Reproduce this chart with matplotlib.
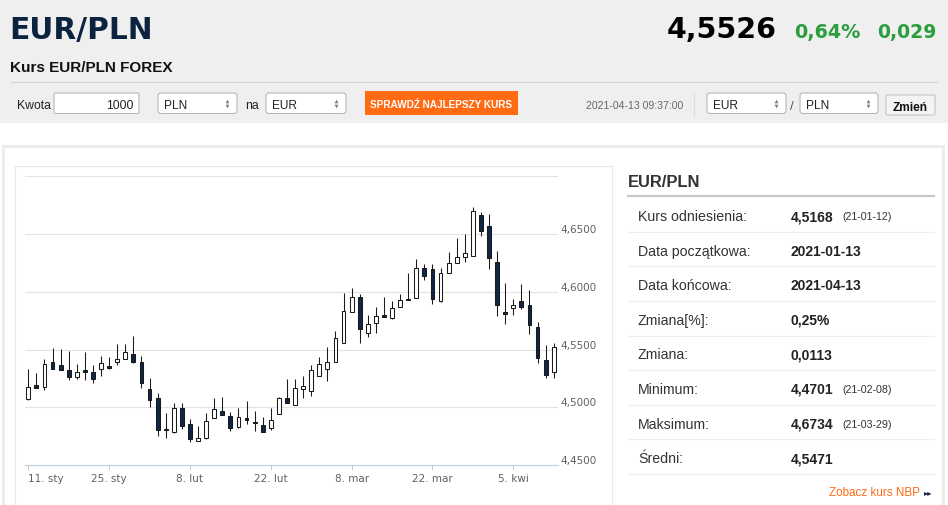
import numpy as np
import matplotlib
matplotlib.use("Agg")
import matplotlib.pyplot as plt
from matplotlib.patches import Rectangle, FancyBboxPatch

plt.rcParams['font.family'] = ['Liberation Sans', 'DejaVu Sans']

# daily EUR/PLN candles
opens = [4.5069, 4.5193, 4.5176, 4.5389, 4.5364, 4.5320, 4.5260, 4.5320, 4.5303, 4.5329,
         4.5355, 4.5395, 4.5421, 4.5464, 4.5395, 4.5162, 4.5078, 4.4804, 4.4789, 4.4991,
         4.4856, 4.4712, 4.4737, 4.4908, 4.4965, 4.4925, 4.4830, 4.4905, 4.4870, 4.4847,
         4.4824, 4.4939, 4.5078, 4.5023, 4.5162, 4.5144, 4.5274, 4.5335, 4.5389, 4.5554,
         4.5822, 4.5952, 4.5646, 4.5733, 4.5799, 4.5773, 4.5868, 4.5929, 4.5949, 4.6203,
         4.6194, 4.5920, 4.6166, 4.6252, 4.6304, 4.6313, 4.6668, 4.6567, 4.6258, 4.5828,
         4.5863, 4.5917, 4.5889, 4.5698, 4.5407, 4.5303]
highs = [4.5332, 4.5294, 4.5415, 4.5516, 4.5502, 4.5485, 4.5372, 4.5476, 4.5364, 4.5447,
         4.5439, 4.5545, 4.5548, 4.5617, 4.5441, 4.5251, 4.5124, 4.4954, 4.5040, 4.5040,
         4.4899, 4.4836, 4.4951, 4.5078, 4.5087, 4.4962, 4.4997, 4.5052, 4.4968, 4.4913,
         4.4994, 4.5089, 4.5248, 4.5245, 4.5268, 4.5364, 4.5439, 4.5522, 4.5658, 4.5990,
         4.6030, 4.5978, 4.5796, 4.5868, 4.5955, 4.5920, 4.5981, 4.6166, 4.6281, 4.6238,
         4.6238, 4.6203, 4.6342, 4.6468, 4.6500, 4.6734, 4.6688, 4.6676, 4.6356, 4.6073,
         4.5935, 4.6065, 4.6013, 4.5736, 4.5540, 4.5560]
lows = [4.5065, 4.5170, 4.5150, 4.5335, 4.5326, 4.5234, 4.5242, 4.5234, 4.5213, 4.5274,
        4.5332, 4.5366, 4.5421, 4.5387, 4.5170, 4.5006, 4.4755, 4.4737, 4.4775, 4.4812,
        4.4701, 4.4709, 4.4723, 4.4905, 4.4934, 4.4795, 4.4824, 4.4853, 4.4795, 4.4787,
        4.4807, 4.4939, 4.5035, 4.5023, 4.5084, 4.5098, 4.5274, 4.5228, 4.5389, 4.5554,
        4.5822, 4.5554, 4.5612, 4.5640, 4.5782, 4.5767, 4.5868, 4.5929, 4.5949, 4.6105,
        4.5894, 4.5909, 4.6166, 4.6252, 4.6261, 4.6313, 4.6480, 4.6194, 4.5790, 4.5721,
        4.5799, 4.5851, 4.5638, 4.5384, 4.5251, 4.5257]
closes = [4.5179, 4.5170, 4.5378, 4.5335, 4.5326, 4.5263, 4.5309, 4.5306, 4.5242, 4.5387,
          4.5343, 4.5421, 4.5476, 4.5395, 4.5211, 4.5066, 4.4804, 4.4810, 4.4994, 4.4841,
          4.4726, 4.4732, 4.4879, 4.4983, 4.4934, 4.4824, 4.4919, 4.4893, 4.4864, 4.4789,
          4.4887, 4.5078, 4.5035, 4.5164, 4.5182, 4.5320, 4.5378, 4.5395, 4.5597, 4.5837,
          4.5952, 4.5681, 4.5724, 4.5793, 4.5782, 4.5860, 4.5932, 4.5935, 4.6203, 4.6140,
          4.5938, 4.6160, 4.6252, 4.6298, 4.6339, 4.6702, 4.6526, 4.6290, 4.5886, 4.5811,
          4.5886, 4.5871, 4.5710, 4.5430, 4.5283, 4.5522]

date_ticks = [0, 10, 20, 30, 40, 50, 60]
date_labels = ['11. sty', '25. sty', '8. lut', '22. lut', '8. mar', '22. mar', '5. kwi']
price_ticks = [4.45, 4.50, 4.55, 4.60, 4.65, 4.70]

stats_labels = ['Kurs odniesienia:', 'Data początkowa:', 'Data końcowa:', 'Zmiana[%]:',
                'Zmiana:', 'Minimum:', 'Maksimum:', 'Średni:']
stats_values = ['4,5168', '2021-01-13', '2021-04-13', '0,25%', '0,0113', '4,4701', '4,6734', '4,5471']
stats_dates = ['(21-01-12)', '', '', '', '', '(21-02-08)', '(21-03-29)', '']

navy = '#0c2340'
orange = '#ff6a13'
green = '#2a9d3f'
dv = 'DejaVu Sans'

fig = plt.figure(figsize=(9.48, 5.06), dpi=100)
bg = fig.add_axes([0, 0, 1, 1])
bg.set_xlim(0, 948)
bg.set_ylim(506, 0)
bg.axis('off')

# header band
bg.add_patch(Rectangle((0, 0), 948, 124, color='#efefef', lw=0))
bg.text(9, 39.3, 'EUR/PLN', fontsize=21.3, fontweight='bold', color=navy, va='baseline', family=dv)
bg.text(777, 38.3, '4,5526', fontsize=20.5, fontweight='bold', color='#000000', va='baseline',
        ha='right', family=dv)
bg.text(794, 38.3, '0,64%', fontsize=13.8, fontweight='bold', color=green, va='baseline', family=dv)
bg.text(937, 38.3, '0,029', fontsize=13.6, fontweight='bold', color=green, va='baseline',
        ha='right', family=dv)
bg.text(10, 71.7, 'Kurs EUR/PLN FOREX', fontsize=11, fontweight='bold', color='#111111', va='baseline')
bg.plot([11, 937], [83.3, 83.3], color='#d4d4d4', lw=0.8)

# converter controls
def box(x0, x1, y0, y1, fc='white', ec='#b8b8b8', r=3):
    bg.add_patch(FancyBboxPatch((x0, y0), x1 - x0, y1 - y0,
                                boxstyle='round,pad=0,rounding_size=%g' % r,
                                fc=fc, ec=ec, lw=0.8))

def select(x0, x1, label):
    box(x0, x1, 94, 114.5)
    bg.text(x0 + 6, 108.5, label, fontsize=8.6, color='#222222', va='baseline')
    bg.plot(x1 - 10, 102, marker='^', ms=2.6, color='#777777', mew=0)
    bg.plot(x1 - 10, 107, marker='v', ms=2.6, color='#777777', mew=0)

bg.text(17, 109, 'Kwota', fontsize=8.8, color='#222222', va='baseline')
box(54, 139, 94, 114.5, r=1.5)
bg.text(134, 109, '1000', fontsize=8.8, color='#222222', va='baseline', ha='right')
select(158, 237, 'PLN')
bg.text(245, 109, 'na', fontsize=8.8, color='#222222', va='baseline')
select(266, 346, 'EUR')
bg.add_patch(Rectangle((365, 92), 153, 24, color=orange, lw=0))
bg.text(441.5, 107.5, 'SPRAWDŹ NAJLEPSZY KURS', fontsize=7.2, fontweight='bold',
        color='white', va='baseline', ha='center')
bg.text(683, 108.5, '2021-04-13 09:37:00', fontsize=7.6, color='#666666', va='baseline', ha='right')
bg.plot([694.5, 694.5], [95, 118], color='#dddddd', lw=0.8)
select(707, 786, 'EUR')
bg.text(792, 109.5, '/', fontsize=9.5, color='#555555', va='baseline', ha='center')
select(800, 878, 'PLN')
box(886, 935, 96, 116, fc='#f4f4f4', ec='#c4c4c4', r=1.5)
bg.text(910.5, 111, 'Zmień', fontsize=8.6, fontweight='bold', color='#111111', va='baseline', ha='center')

# lower panels
bg.add_patch(Rectangle((3, 146.5), 940, 370, fc='white', ec='#ececec', lw=2.2))
bg.add_patch(Rectangle((15, 167), 597, 350, fc='white', ec='#e8e8e8', lw=0.8))

# stats table
bg.text(628, 186.7, 'EUR/PLN', fontsize=11.9, fontweight='bold', color='#333333', va='baseline')
bg.plot([628, 934], [197, 197], color='#c8c8c8', lw=1.6)
row_h = 34.6
for i, (lab, val, dt) in enumerate(zip(stats_labels, stats_values, stats_dates)):
    base = 221 + i * row_h
    bg.text(638, base, lab, fontsize=10.2, color='#333333', va='baseline')
    bg.text(791, base, val, fontsize=10, fontweight='bold', color='#222222', va='baseline')
    if dt:
        bg.text(842, base - 0.5, dt, fontsize=7.7, color='#333333', va='baseline')
    sep = 232.7 + i * row_h
    bg.plot([628, 934], [sep, sep], color='#eeeeee', lw=0.8)
bg.text(920, 495.7, 'Zobacz kurs NBP', fontsize=8.4, color=orange, va='baseline', ha='right')
bg.text(924, 495, '▸▸', fontsize=6, color=navy, va='baseline', family=dv)

# candlestick chart
ax = fig.add_axes([25 / 948, 40 / 506, 533 / 948, 288.7 / 506])
ax.set_facecolor('none')
x = np.arange(len(opens))
o = np.array(opens)
c = np.array(closes)
up = c >= o
fills = np.where(up, 'white', '#0e2747')
ax.vlines(x, lows, highs, color='#1a1a1a', lw=0.75, zorder=2)
ax.bar(x, np.abs(c - o), bottom=np.minimum(o, c), width=0.47, color=fills,
       edgecolor='#1a1a1a', linewidth=0.75, zorder=3)

ax.set_xlim(-0.41, 65.53)
ax.set_ylim(4.45, 4.70)
ax.set_yticks(price_ticks)
ax.set_yticklabels([('%.4f' % v).replace('.', ',') for v in price_ticks[:-1]] + [''],
                   va='bottom', family=dv)
ax.yaxis.tick_right()
ax.tick_params(axis='y', length=0, pad=1.5, labelsize=7.5, labelcolor='#606060')
ax.set_xticks(date_ticks)
ax.set_xticklabels(date_labels, family=dv)
ax.tick_params(axis='x', length=3.6, width=0.75, color='#c0d0e0', pad=2.5,
               labelsize=7.5, labelcolor='#606060')
ax.get_xticklabels()[0].set_ha('left')
ax.grid(axis='y', color='#e3e3e3', lw=0.8, zorder=0)
ax.set_axisbelow(True)
for s in ['top', 'left', 'right']:
    ax.spines[s].set_visible(False)
ax.spines['bottom'].set_color('#c0d0e0')
ax.spines['bottom'].set_linewidth(0.8)

fig.savefig('out.png', dpi=100)
